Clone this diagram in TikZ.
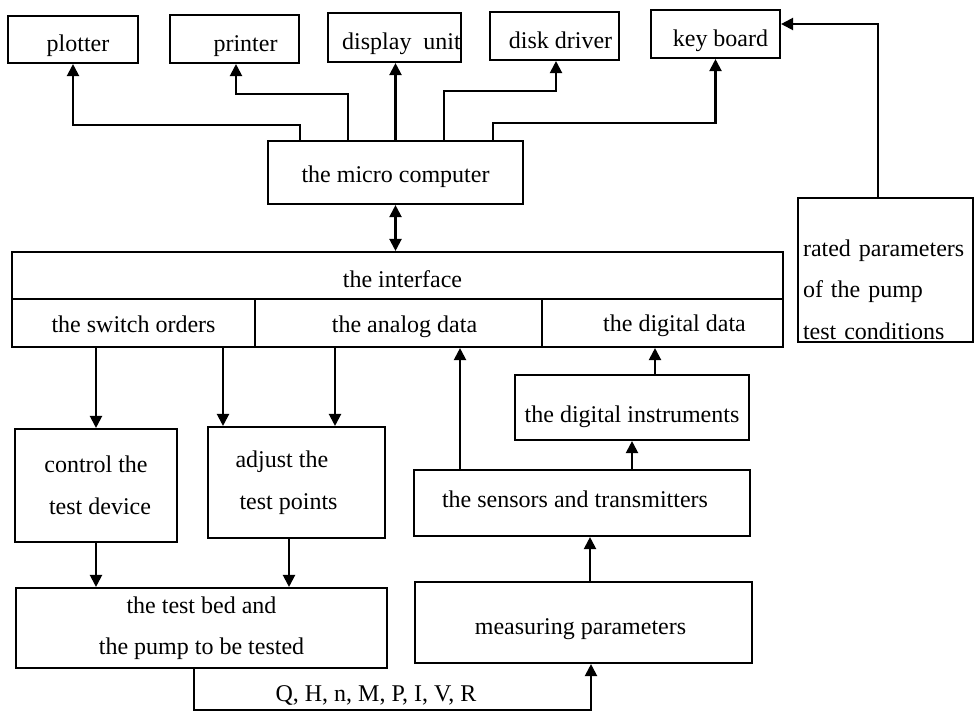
\documentclass[tikz,border=0pt]{standalone}
\usepackage{fontspec}
\setmainfont{Liberation Serif}
\usetikzlibrary{arrows.meta}
\tikzset{
  box/.style={draw, line width=2.1pt, inner sep=0pt, align=center,
    font=\fontsize{24}{41.5}\selectfont},
  tb/.style={text height=#1, text depth=4pt},
  arr/.style={line width=2.1pt, -{Triangle[length=12pt,width=12pt]}},
  darr/.style={line width=2.1pt, {Triangle[length=12pt,width=12pt]}-{Triangle[length=12pt,width=12pt]}},
  lbl/.style={font=\fontsize{24}{41.5}\selectfont, inner sep=0pt}
}
\begin{document}
\begin{tikzpicture}[x=1pt,y=-1pt]
\useasboundingbox (0,0) rectangle (976,712);
% top row
\node[box, tb=28pt, minimum width=130pt, minimum height=47pt] (plotter) at (73,39.5) {\hspace*{10pt}plotter};
\node[box, tb=28pt, minimum width=129pt, minimum height=48pt] (printer) at (234.5,39) {\hspace*{22pt}printer};
\node[box, tb=28pt, minimum width=129pt, minimum height=49pt] (display) at (394.5,37.5) {\hspace*{14pt}display\ \ unit};
\node[box, tb=28pt, minimum width=129pt, minimum height=48pt] (disk) at (554.5,36) {\hspace*{12pt}disk driver};
\node[box, tb=28pt, minimum width=129pt, minimum height=48pt] (key) at (715.5,34) {\hspace*{10pt}key board};
% micro computer
\node[box, tb=24pt, minimum width=255pt, minimum height=63pt] (micro) at (395.5,172.5) {the micro computer};
% rated parameters
\node[box, minimum width=175pt, minimum height=144pt, align=left, text width=165pt] (rated) at (885.5,270) {\rule{0pt}{56pt}rated parameters\\of the pump\\test conditions};
% interface
\node[box, tb=27pt, minimum width=771pt, minimum height=47pt] (iface) at (397.5,275.5) {\hspace*{10pt}the interface};
\node[box, tb=22pt, minimum width=243pt, minimum height=48pt] (switch) at (133.5,323) {the switch orders};
\node[box, tb=22pt, minimum width=287pt, minimum height=48pt] (analog) at (398.5,323) {\hspace*{12pt}the analog data};
\node[box, tb=20pt, minimum width=241pt, minimum height=48pt] (digital) at (662.5,323) {\hspace*{24pt}the digital data};
% middle
\node[box, minimum width=162pt, minimum height=113pt] (control) at (96,485.5) {control the\\\hspace*{8pt}test device};
\node[box, minimum width=177pt, minimum height=111pt, align=left] (adjust) at (296.5,482.5) {adjust the\\\hspace*{4pt}test points\hspace*{20pt}};
\node[box, tb=34pt, minimum width=234pt, minimum height=65pt] (dinst) at (632,407.5) {the digital instruments};
\node[box, tb=12pt, minimum width=336pt, minimum height=66pt] (sensors) at (582,503) {the sensors and transmitters\hspace*{14pt}};
% bottom
\node[box, minimum width=371pt, minimum height=80pt] (testbed) at (201.5,628) {the test bed and\\the pump to be tested};
\node[box, tb=27pt, minimum width=337pt, minimum height=81pt] (measuring) at (583.5,622.5) {measuring parameters\hspace*{6pt}};
\node[lbl, anchor=base] (qlabel) at (376,701) {Q, H, n, M, P, I, V, R};
% connectors top
\draw[arr] ([xshift=-95.5pt]micro.north) -- ++(0,-15) -| (plotter.south);
\draw[arr] ([xshift=-47.5pt]micro.north) -- ++(0,-46) -| ([xshift=1.5pt]printer.south);
\draw[arr] (micro.north) -- (micro.north |- display.south);
\draw[arr] ([xshift=48.5pt]micro.north) -- ++(0,-49) -| ([xshift=1.5pt]disk.south);
\draw[arr] ([xshift=97.5pt]micro.north) -- ++(0,-17) -| (key.south);
\coordinate (r1) at ([xshift=-7.5pt]rated.north);
\coordinate (k1) at ([yshift=10pt]key.east);
\draw[arr] (r1) |- (k1);
\draw[darr] (micro.south) -- (micro.south |- iface.north);
% interface to middle
\draw[arr] (control.north |- switch.south) -- (control.north);
\coordinate (a1) at ([xshift=-73.5pt]adjust.north);
\draw[arr] (a1 |- switch.south) -- (a1);
\coordinate (a2) at ([xshift=38.5pt]adjust.north);
\draw[arr] (a2 |- analog.south) -- (a2);
\coordinate (s1) at ([xshift=-122pt]sensors.north);
\draw[arr] (s1) -- (s1 |- analog.south);
\draw[arr] (sensors.north -| dinst.south) -- (dinst.south);
\coordinate (d1) at ([xshift=23pt]dinst.north);
\draw[arr] (d1) -- (d1 |- digital.south);
% middle to bottom
\draw[arr] (control.south) -- (control.south |- testbed.north);
\coordinate (a3) at ([xshift=-7.5pt]adjust.south);
\draw[arr] (a3) -- (a3 |- testbed.north);
\coordinate (m2) at ([xshift=6.5pt]measuring.north);
\draw[arr] (m2) -- (m2 |- sensors.south);
\coordinate (t1) at ([xshift=-7.5pt]testbed.south);
\coordinate (m1) at ([xshift=7.5pt]measuring.south);
\draw[arr] (t1) -- ++(0,41) -| (m1);
\end{tikzpicture}
\end{document}
